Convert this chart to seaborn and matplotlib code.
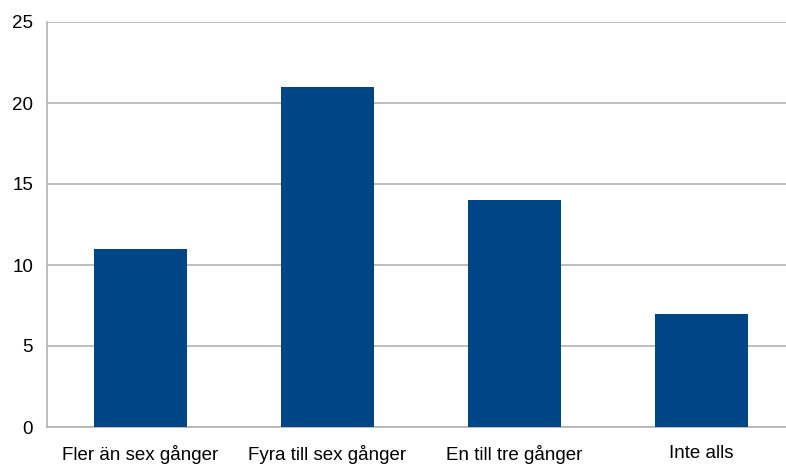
import matplotlib
matplotlib.use("Agg")
import matplotlib.pyplot as plt
import seaborn as sns
import pandas as pd

categories = ["Fler än sex gånger", "Fyra till sex gånger", "En till tre gånger", "Inte alls"]
values = [11, 21, 14, 7]
y_ticks = [0, 5, 10, 15, 20, 25]

sns.set_style("white")
plt.rcParams["font.family"] = ["Liberation Sans", "DejaVu Sans"]

df = pd.DataFrame({"kategori": categories, "antal": values})

W, H = 786, 466
fig = plt.figure(figsize=(W / 100, H / 100), dpi=100)
left, right, top, bottom = 47, 795, 22, 427
ax = fig.add_axes([left / W, 1 - bottom / H, (right - left) / W, (bottom - top) / H])

sns.barplot(data=df, x="kategori", y="antal", order=categories, color="#004586",
            width=0.5, saturation=1, linewidth=0, ax=ax, zorder=3)

grid_c = "#b3b3b3"
ax.set_xlim(-0.5, 3.5)
ax.set_ylim(0, 25)
ax.set_yticks(y_ticks)
ax.yaxis.grid(True, color=grid_c, linewidth=1.2, zorder=0)
ax.set_axisbelow(True)

for s in ["top", "right"]:
    ax.spines[s].set_visible(False)
for s in ["left", "bottom"]:
    ax.spines[s].set_color(grid_c)
    ax.spines[s].set_linewidth(1.2)

ax.set_xlabel("")
ax.set_ylabel("")
ax.set_xticks(range(len(categories)))
ax.set_xticklabels(categories)
ax.tick_params(axis="x", which="major", length=0, pad=13, labelsize=13.5, colors="#000000")
ax.set_xticks([-0.5, 0.5, 1.5, 2.5], minor=True)
ax.tick_params(axis="x", which="minor", length=8, width=1.2, color=grid_c, direction="out")
ax.tick_params(axis="y", length=6, width=1.2, color=grid_c, direction="out", pad=4,
               labelsize=13.5, labelcolor="#000000")

fig.savefig("out.png", dpi=100)
